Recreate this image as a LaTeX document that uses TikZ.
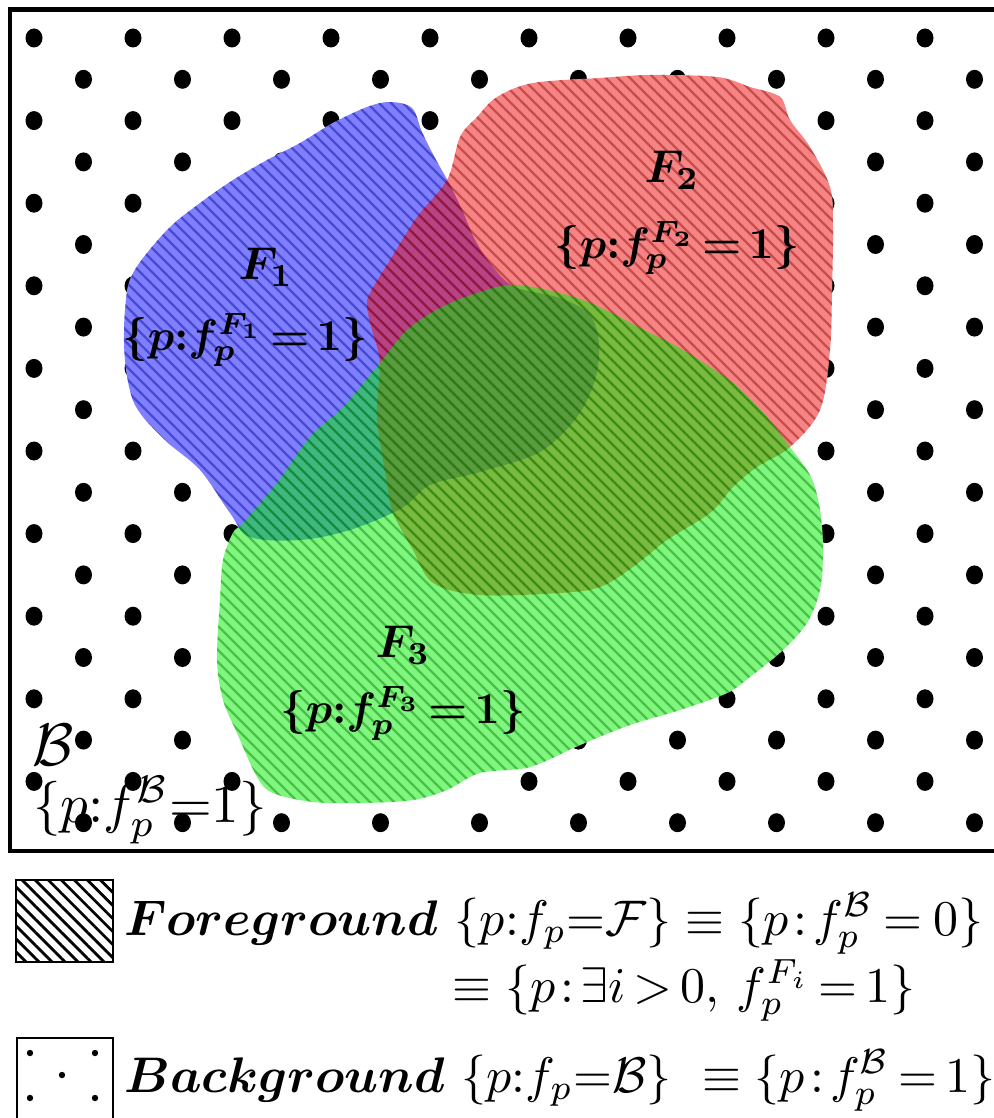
\documentclass[tikz,border=0pt]{standalone}
\usepackage{amsmath,amssymb,bm,graphicx}
\usetikzlibrary{patterns.meta}
\definecolor{bluefill}{RGB}{0,0,255}
\definecolor{bluestripe}{RGB}{0,0,150}
\definecolor{redfill}{RGB}{238,10,10}
\definecolor{redstripe}{RGB}{140,0,0}
\definecolor{greenfill}{RGB}{0,240,0}
\definecolor{greenstripe}{RGB}{0,120,0}
\tikzset{
  blobfill/.style={fill=#1fill, fill opacity=0.5, draw=none},
  stripe/.style={draw=#1stripe, draw opacity=0.42, line width=1.15pt},
  blabel/.style={text=black, inner sep=0pt},
  legtext/.style={text=black, inner sep=0pt, anchor=base west},
  framebox/.style={draw=black, line width=2.2pt},
  legbox/.style={draw=black, line width=0.7pt},
}
\def\blobblue{plot[smooth cycle, tension=0.55] coordinates {(133,273) (167,230) (200,203) (233,180) (267,160) (300,143) (333,123) (367,107) (390,102) (412,108) (422,132) (435,158) (450,185) (463,212) (475,240) (493,267) (515,287) (560,298) (590,315) (599,345) (595,380) (577,417) (540,452) (480,472) (430,485) (402,508) (350,530) (300,540) (250,537) (230,513) (200,470) (165,440) (135,405) (125,360) (125,310)}}
\def\blobred{plot[smooth cycle, tension=0.55] coordinates {(447,180) (460,137) (477,117) (497,97) (533,83) (600,78) (650,75) (717,77) (750,87) (780,97) (790,120) (810,147) (830,187) (833,227) (832,290) (830,350) (820,410) (790,447) (757,467) (733,487) (710,513) (667,540) (633,567) (600,587) (560,593) (480,595) (433,583) (413,550) (393,513) (387,483) (377,417) (380,363) (372,330) (367,307) (370,293) (390,260) (417,217)}}
\def\blobgreen{plot[smooth cycle, tension=0.55] coordinates {(477,293) (517,285) (583,300) (650,333) (683,350) (733,383) (767,417) (790,447) (811,477) (820,510) (823,550) (820,590) (807,623) (783,650) (750,677) (727,693) (680,710) (630,725) (580,745) (530,767) (480,773) (447,790) (413,800) (363,803) (313,802) (273,793) (257,777) (237,733) (223,700) (217,660) (220,600) (223,560) (233,533) (243,523) (277,483) (310,437) (343,407) (380,363) (407,330) (440,308)}}
\newcommand{\hatchblob}[2]{%
  \begin{scope}
    \clip #2;
    \foreach \c in {-840,-828,...,900}{\draw[stripe=#1] (\c,0) -- ++(900,900);}
  \end{scope}}
\begin{document}
\begin{tikzpicture}[x=0.5pt,y=-0.5pt]
\useasboundingbox (0,0) rectangle (994,1118);
\begin{scope}
\clip (0,0) rectangle (994,1118);
% background dots
\foreach \j in {0,...,19}{
  \pgfmathsetmacro\yy{38+41.3*\j}
  \pgfmathtruncatemacro\odd{mod(\j,2)}
  \foreach \k in {0,...,9}{
    \pgfmathsetmacro\xx{34+49.5*\odd+99*\k}
    \fill[black] (\xx,\yy) ellipse[x radius=8.5,y radius=9.5];
  }
}
% blobs
\fill[white] \blobblue;
\fill[white] \blobred;
\fill[white] \blobgreen;
\path[blobfill=blue] \blobblue;
\hatchblob{blue}{\blobblue}
\path[blobfill=red] \blobred;
\hatchblob{red}{\blobred}
\path[blobfill=green] \blobgreen;
\hatchblob{green}{\blobgreen}
% labels
\node[blabel] (f1) at (266,267) {\scalebox{2.3}{$\bm{F_1}$}};
\node[blabel] (s1) at (245,340) {\scalebox{2.2}{$\bm{\{p{:}f_p^{F_1}\mskip3mu{=}\mskip3mu1\}}$}};
\node[blabel] (f2) at (672,170) {\scalebox{2.3}{$\bm{F_2}$}};
\node[blabel] (s2) at (677,248) {\scalebox{2.2}{$\bm{\{p{:}f_p^{F_2}\mskip3mu{=}\mskip3mu1\}}$}};
\node[blabel] (f3) at (403,645) {\scalebox{2.3}{$\bm{F_3}$}};
\node[blabel] (s3) at (403,713) {\scalebox{2.2}{$\bm{\{p{:}f_p^{F_3}\mskip3mu{=}\mskip3mu1\}}$}};
\node[blabel] (bb) at (53,745) {\scalebox{3}{$\mathcal{B}$}};
\node[blabel] (sb) at (150,810) {\scalebox{2.75}{$\{p{:}f_p^{\mathcal{B}}{=}1\}$}};
% frame
\draw[framebox] (10,9.5) rectangle (1010,851);
% legend
\path[legbox, pattern={Lines[angle=-45,distance=4.6pt,line width=1.4pt]}, pattern color=black] (16,880) rectangle (113,962);
\draw[legbox] (16,880) rectangle (113,962);
\draw[legbox] (17,1038) rectangle (113,1140);
\foreach \p in {(30,1053),(95,1053),(62,1075),(30,1098),(95,1098)}{\fill[black] \p circle[radius=3.2];}
\node[legtext] (fg) at (124,935) {\scalebox{2.5}{$\bm{Foreground}\ \{p{:}f_p{=}\mathcal{F}\}\equiv\{p\mskip2mu{:}\mskip2mu f^{\mathcal{B}}_p\mskip4mu{=}\mskip4mu0\}$}};
\node[legtext] (fg2) at (452,1002) {\scalebox{2.5}{$\equiv\{p\mskip2mu{:}\mskip2mu\exists i\mskip3mu{>}\mskip3mu0,\, f_p^{F_i}\mskip3mu{=}\mskip3mu1\}$}};
\node[legtext] (bg) at (124,1092) {\scalebox{2.5}{$\bm{Background}\ \{p{:}f_p{=}\mathcal{B}\}\ \equiv\{p\mskip2mu{:}\mskip2mu f_p^{\mathcal{B}}\mskip3mu{=}\mskip3mu1\}$}};
\end{scope}
\end{tikzpicture}
\end{document}
